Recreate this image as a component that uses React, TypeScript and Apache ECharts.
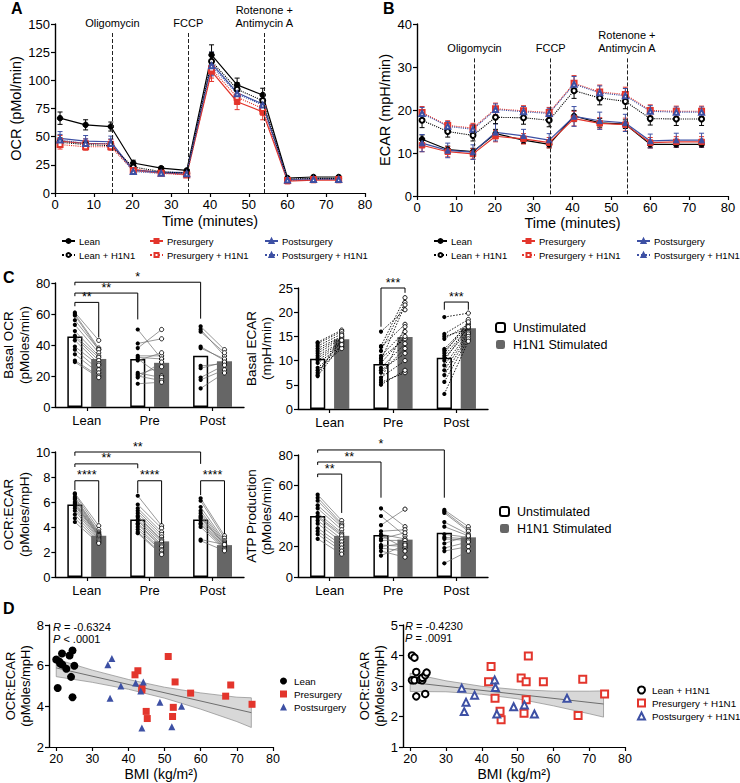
import React, { useEffect, useRef } from "react";
import * as echarts from "echarts";

const FONT = "'Liberation Sans', Arial, Helvetica, sans-serif";

// ---------- Panel A / B data ----------
const timePoints = [1.3, 7.9, 14.4, 20.2, 27.4, 34, 40.4, 47, 53.6, 60, 66.7, 73.2];
const groupNames = ["Lean", "Presurgery", "Postsurgery", "Lean + H1N1", "Presurgery + H1N1", "Postsurgery + H1N1"];

const ocrLean = [66.4, 60.5, 59, 26.6, 22, 20, 122.5, 96, 87, 13.3, 14.2, 14.2];
const ocrPre = [46, 44, 43.5, 21, 18, 16.5, 108, 81, 72, 10.5, 11.5, 11.5];
const ocrPost = [48.5, 46, 45.5, 20, 18.5, 18, 115, 89, 79, 12, 12.5, 12.5];
const ocrLeanH = [45, 43, 42, 23, 19, 17.5, 117, 92, 82, 12.5, 13, 13];
const ocrPreH = [43, 41, 41, 20, 17.5, 16, 110, 85, 75, 11, 12, 12];
const ocrPostH = [47, 44, 44, 19, 17.5, 17, 113, 88, 78, 11.5, 12, 12];
const ocrLeanErr = [5.5, 4.5, 4, 2.5, 1.5, 1.2, 9, 6, 6, 1, 1, 1];
const ocrPreErr = [5, 4, 4, 2, 1.5, 1.2, 9, 7, 7, 1, 1, 1];
const ocrPostErr = [6, 5, 5, 2, 1.5, 1.5, 10, 7, 7, 1, 1, 1];
const ocrLeanHErr = [4, 3, 3, 2, 1.5, 1.2, 8, 6, 6, 1, 1, 1];
const ocrPreHErr = [4, 3, 3, 2, 1.5, 1.2, 8, 6, 6, 1, 1, 1];
const ocrPostHErr = [5, 4, 4, 2, 1.5, 1.2, 9, 6, 6, 1, 1, 1];

const ecarLean = [13.2, 10.8, 10.3, 14.5, 13, 12, 18.6, 17, 16.7, 12, 12, 12];
const ecarPre = [11.8, 10.3, 9.8, 13.9, 13.3, 12.4, 18, 16.9, 16.6, 12.4, 12.6, 12.6];
const ecarPost = [12.3, 10.6, 10.2, 14.8, 14, 13, 18.5, 17.5, 17, 12.8, 13, 13];
const ecarLeanH = [17.6, 15, 14.1, 18.3, 18.2, 17.6, 24.5, 22.8, 22, 18, 17.9, 17.9];
const ecarPreH = [19.4, 16.4, 15.8, 20.3, 19.8, 19.4, 26.2, 24.2, 23.6, 19.9, 19.7, 19.7];
const ecarPostH = [19.2, 16.2, 15.5, 20.1, 19.6, 19.2, 26, 24, 23.3, 19.7, 19.5, 19.5];
const ecarLeanErr = [1, 0.8, 0.8, 1, 0.8, 0.8, 1.3, 1, 1, 0.8, 0.7, 0.7];
const ecarPreErr = [1.5, 1.2, 1.2, 1.3, 1.2, 1.2, 1.7, 1.3, 1.5, 1.2, 1.2, 1.2];
const ecarPostErr = [2, 1.7, 1.7, 2, 1.5, 1.5, 2.3, 2, 2, 1.6, 1.6, 1.6];
const ecarLeanHErr = [1.7, 1.3, 1.3, 1.5, 1.5, 1.5, 1.8, 1.6, 1.7, 1.5, 1.5, 1.5];
const ecarPreHErr = [1.4, 1.1, 1.1, 1.3, 1.2, 1.2, 1.8, 1.6, 1.7, 1.3, 1.2, 1.2];
const ecarPostHErr = [1.4, 1.1, 1.1, 1.3, 1.2, 1.2, 1.8, 1.6, 1.7, 1.3, 1.2, 1.2];

const injectionNames = ["Oligomycin", "FCCP", "Rotenone +\nAntimycin A"];
const injectionTimes = [14.8, 34.4, 54.0];

// ---------- Panel C data ----------
const groupCats = ["Lean", "Pre", "Post"];
const barNames = ["Unstimulated", "H1N1 Stimulated"];

const basalOcrUnstim = [45.5, 31, 33];
const basalOcrStim = [31, 28.5, 29.5];
const basalEcarUnstim = [10.4, 9.3, 10.6];
const basalEcarStim = [14.4, 14.9, 16.7];
const ocrEcarUnstim = [5.8, 4.6, 4.6];
const ocrEcarStim = [3.3, 2.85, 2.55];
const atpUnstim = [40, 27.5, 29];
const atpStim = [27, 24.5, 26];

const basalOcrLeanU = [61, 60, 59, 56, 53, 49, 46, 45, 43, 39, 37, 34, 30, 29];
const basalOcrLeanS = [43, 38, 37, 37, 35, 33, 32, 30, 28, 27, 24, 22, 20, 19];
const basalOcrPreU = [50, 41, 38, 33, 32, 31, 30, 22, 21, 20, 19, 15];
const basalOcrPreS = [31, 44, 50, 33, 31, 20, 35, 19, 26, 17, 29, 16];
const basalOcrPostU = [52, 50, 48.6, 39, 38, 26.5, 25, 19, 17.5, 12];
const basalOcrPostS = [37, 33, 35, 30, 31, 28, 29, 27, 24, 22];

const basalEcarLeanU = [13.8, 13.5, 13, 12.5, 12, 11.5, 11, 10.5, 10, 9.5, 8.5, 8, 7.5, 7, 6.8];
const basalEcarLeanS = [16.3, 16, 15.5, 15, 14.8, 14.5, 14, 13.8, 13.5, 13, 12.8, 12.5, 14.2, 15.2, 13.3];
const basalEcarPreU = [16, 13, 12.8, 12, 11, 10.5, 10, 9.5, 8.5, 8, 7.5, 6.5, 6, 5.5, 5];
const basalEcarPreS = [20.5, 23, 17.5, 22, 16, 14.5, 21.5, 15, 13.5, 11.5, 12.5, 10, 17, 7.5, 8];
const basalEcarPostU = [19, 15.5, 15, 14.5, 12.4, 12, 11.5, 11, 10.5, 10, 9, 8, 7, 5.6, 3.1];
const basalEcarPostS = [19.8, 18.5, 16.5, 17.5, 17.5, 17, 18, 16.8, 16, 17, 15.8, 15.5, 15, 14.5, 14];

const ocrEcarLeanU = [6.7, 6.6, 6.4, 6.3, 6.2, 6.0, 5.9, 5.8, 5.7, 5.5, 5.3, 5.0, 4.7, 4.4];
const ocrEcarLeanS = [4.1, 3.8, 3.6, 3.5, 3.4, 3.4, 3.3, 3.3, 3.2, 3.1, 3.0, 2.9, 2.8, 2.7];
const ocrEcarPreU = [6.5, 5.8, 5.5, 5.3, 5.1, 4.9, 4.8, 4.6, 4.5, 4.3, 4.2, 4.0, 3.8, 3.6, 3.5];
const ocrEcarPreS = [4.1, 3.9, 3.6, 3.4, 3.2, 3.0, 2.9, 2.8, 2.6, 2.5, 2.4, 2.2, 2.1, 1.9, 1.8];
const ocrEcarPostU = [6.3, 6.1, 5.6, 5.3, 5.1, 4.9, 4.8, 4.7, 4.5, 4.3, 4.2, 4.0, 3.0, 2.9];
const ocrEcarPostS = [3.3, 3.1, 2.9, 2.8, 2.7, 2.6, 2.6, 2.5, 2.4, 2.4, 2.3, 2.2, 2.6, 2.1];

const atpLeanU = [54, 52, 50, 47, 45, 42, 40, 39, 37, 35, 32, 30, 28, 25];
const atpLeanS = [37, 35, 34, 33, 31, 29, 28, 27, 25, 23, 21, 19, 17, 15];
const atpPreU = [45, 40, 34, 30, 28, 27, 25, 24, 21, 20, 19, 17, 14];
const atpPreS = [33, 27, 44.5, 31, 25, 19, 29, 24, 20, 22, 17, 13, 21];
const atpPostU = [44, 43, 42, 36, 33, 28, 26, 25, 22, 19, 17, 9];
const atpPostS = [33, 31, 30, 28, 27, 26, 25, 24, 27, 23, 20, 17];

// brackets: [cat1, side1, cat2, side2, top, bottom1, bottom2]
const basalOcrBrackets = [[0, -1, 2, -1, 80.5, 78.5, 57], [0, -1, 1, -1, 73.5, 71.5, 56.5], [0, -1, 0, 1, 67.5, 65, 45]];
const basalOcrStars = ["*", "**", "**"];
const basalEcarBrackets = [[1, -1, 1, 1, 25, 17, 24], [2, -1, 2, 1, 22.1, 20.5, 20.5]];
const basalEcarStars = ["***", "***"];
const ocrEcarBrackets = [[0, -1, 2, -1, 10, 9.7, 9.05], [0, -1, 1, -1, 9.05, 8.8, 8.7], [0, -1, 0, 1, 7.7, 6.95, 4.35], [1, -1, 1, 1, 7.7, 6.7, 4.25], [2, -1, 2, 1, 7.7, 6.55, 3.45]];
const ocrEcarStars = ["**", "**", "****", "****", "****"];
const atpBrackets = [[0, -1, 2, -1, 83.3, 81.5, 52], [0, -1, 1, -1, 75.4, 73.5, 52], [0, -1, 0, 1, 67.5, 65.5, 42]];
const atpStars = ["*", "**", "**"];

// ---------- Panel D data ----------
const bmiTicks = [20, 30, 40, 50, 60, 70, 80];
const dLean = [[20, 6.3], [21.6, 6.6], [20.9, 6.2], [21.1, 6.1], [21.7, 6.05], [22.8, 5.85], [23.7, 6.5], [24.5, 6.75], [25, 6.0], [24.1, 5.45], [20.4, 4.9], [24.5, 4.45]];
const dPre = [[51, 6.45], [41.8, 5.55], [42.6, 5.75], [43.7, 4.9], [43.7, 4.8], [52.9, 5.2], [57.2, 4.65], [68.3, 5.05], [66.9, 4.5], [74.2, 4.1], [44.9, 3.75], [45.2, 3.4], [52.4, 3.95], [52.2, 3.5]];
const dPost = [[35.4, 6.35], [34.3, 6.05], [37.9, 5.0], [42, 5.15], [44.1, 5.2], [43.4, 4.75], [34.9, 4.4], [48.7, 4.2], [54.7, 4.0], [43.7, 2.93], [52, 3.0]];
const dLeanH = [[20.5, 4.0], [21.2, 3.93], [21.7, 3.46], [20.5, 3.19], [21.2, 3.19], [22.8, 3.2], [23.4, 3.19], [23.4, 3.27], [24.2, 3.35], [24.6, 3.44], [24.2, 2.74], [21.7, 2.66]];
const dPreH = [[53, 3.98], [42.6, 3.64], [41.9, 3.14], [51, 3.26], [52.4, 3.14], [57.2, 3.14], [68.2, 3.22], [74.3, 2.74], [43.7, 2.6], [52.4, 2.55], [45.1, 2.17], [45.4, 1.89], [51.8, 2.11], [66.9, 2.03]];
const dPostH = [[34.4, 2.93], [43.6, 3.2], [43.8, 2.95], [38, 2.7], [35.6, 2.47], [35.1, 2.16], [44.2, 2.08], [48.9, 2.32], [51.9, 2.38], [54.7, 2.08], [63.8, 2.6]];

const regX = [20, 30, 40, 50, 60, 70, 74];
const regLeftUpper = [6.32, 5.78, 5.32, 4.94, 4.66, 4.45, 4.42];
const regLeftLower = [5.46, 5.18, 4.84, 4.4, 3.86, 3.25, 2.96];
const regLeftLine = [[20, 5.89], [74, 3.69]];
const regRightUpper = [3.42, 3.17, 2.99, 2.88, 2.83, 2.83, 2.84];
const regRightLower = [2.82, 2.81, 2.73, 2.58, 2.35, 2.09, 1.98];
const regRightLine = [[20, 3.12], [74, 2.41]];

// ---------- styles ----------
const RED = "#e3352c";
const BLUE = "#3d50a4";
const groupStyles = [
  { color: "#000", symbol: "circle", dash: "solid" },
  { color: RED, symbol: "rect", dash: "solid" },
  { color: BLUE, symbol: "triangle", dash: "solid" },
  { color: "#000", symbol: "emptyCircle", dash: "dotted" },
  { color: RED, symbol: "emptyRect", dash: "dotted" },
  { color: BLUE, symbol: "emptyTriangle", dash: "dotted" },
];
const BAR_W = 0.24;
const BAR_GAP = 0.58;
const BAR_OFF = (BAR_W * (1 + BAR_GAP)) / 2;

const axisLine = { show: true, onZero: false, lineStyle: { color: "#000", width: 1.2 } };
const axisTick = { show: true, length: 4, lineStyle: { color: "#000", width: 1.2 } };
const noSplit = { show: false };

function errorBarItem(color: string) {
  return (params: any, api: any) => {
    const x = api.value(0), m = api.value(1), e = api.value(2);
    const hi = api.coord([x, m + e]);
    const lo = api.coord([x, m - e]);
    const w = 2.5;
    const st = { stroke: color, lineWidth: 1 };
    return {
      type: "group",
      children: [
        { type: "line", shape: { x1: hi[0], y1: hi[1], x2: lo[0], y2: lo[1] }, style: st },
        { type: "line", shape: { x1: hi[0] - w, y1: hi[1], x2: hi[0] + w, y2: hi[1] }, style: st },
        { type: "line", shape: { x1: lo[0] - w, y1: lo[1], x2: lo[0] + w, y2: lo[1] }, style: st },
      ],
    };
  };
}

function pairItem(lineColor: string, lineWidth: number, dash: any) {
  return (params: any, api: any) => {
    const c = api.value(0), u = api.value(1), s = api.value(2);
    const band = api.size([1, 0])[0];
    const off = band * BAR_OFF;
    const p0 = api.coord([c, u]);
    const p1 = api.coord([c, s]);
    const x0 = p0[0] - off, x1 = p1[0] + off;
    return {
      type: "group",
      children: [
        { type: "line", shape: { x1: x0, y1: p0[1], x2: x1, y2: p1[1] }, style: { stroke: lineColor, lineWidth, lineDash: dash } },
        { type: "circle", shape: { cx: x0, cy: p0[1], r: 2.1 }, style: { fill: "#000" } },
        { type: "circle", shape: { cx: x1, cy: p1[1], r: 2.1 }, style: { fill: "#fff", stroke: "#000", lineWidth: 0.9 } },
      ],
    };
  };
}

function bracketItem(labels: string[]) {
  return (params: any, api: any) => {
    const band = api.size([1, 0])[0];
    const off = band * BAR_OFF;
    const a = api.coord([api.value(0), api.value(4)]);
    const b = api.coord([api.value(2), api.value(4)]);
    const x1 = a[0] + api.value(1) * off;
    const x2 = b[0] + api.value(3) * off;
    const yTop = a[1];
    const y1 = api.coord([api.value(0), api.value(5)])[1];
    const y2 = api.coord([api.value(2), api.value(6)])[1];
    return {
      type: "group",
      children: [
        { type: "polyline", shape: { points: [[x1, y1], [x1, yTop], [x2, yTop], [x2, y2]] }, style: { stroke: "#000", lineWidth: 1, fill: null } },
        { type: "text", x: (x1 + x2) / 2, y: yTop + 1, style: { text: labels[params.dataIndex], align: "center", verticalAlign: "bottom", fontSize: 12.5, fontFamily: FONT, fill: "#000" } },
      ],
    };
  };
}

function bandItem(xs: number[], up: number[], lo: number[]) {
  return (params: any, api: any) => {
    if (params.dataIndex !== 0) return { type: "group", children: [] };
    const pts: number[][] = [];
    xs.forEach((x, i) => pts.push(api.coord([x, up[i]])));
    for (let i = xs.length - 1; i >= 0; i--) pts.push(api.coord([xs[i], lo[i]]));
    return { type: "polygon", shape: { points: pts }, style: { fill: "#d8d8d8", stroke: "#8a8a8a", lineWidth: 0.7 } };
  };
}

function buildOption() {
  const ocrSets = [ocrLean, ocrPre, ocrPost, ocrLeanH, ocrPreH, ocrPostH];
  const ocrErrs = [ocrLeanErr, ocrPreErr, ocrPostErr, ocrLeanHErr, ocrPreHErr, ocrPostHErr];
  const ecarSets = [ecarLean, ecarPre, ecarPost, ecarLeanH, ecarPreH, ecarPostH];
  const ecarErrs = [ecarLeanErr, ecarPreErr, ecarPostErr, ecarLeanHErr, ecarPreHErr, ecarPostHErr];

  const grids = [
    { left: 55, top: 24, width: 310, height: 169 },
    { left: 417, top: 24, width: 311, height: 172 },
    { left: 49, top: 283, width: 195, height: 124 },
    { left: 298, top: 288, width: 190, height: 121 },
    { left: 52, top: 452, width: 192, height: 125 },
    { left: 298, top: 455, width: 190, height: 122 },
    { left: 49, top: 625, width: 224, height: 123 },
    { left: 403, top: 625, width: 222, height: 123 },
  ];

  const tickLabel = (size: number, margin = 6) => ({ fontSize: size, color: "#000", fontFamily: FONT, margin });
  const nameStyle = (size: number) => ({ fontSize: size, color: "#000", fontFamily: FONT, lineHeight: size + 2 });

  const timeX = (gi: number, gap: number) => ({
    type: "value", gridIndex: gi, min: 0, max: 80, interval: 10,
    axisLine, axisTick, splitLine: noSplit, axisLabel: tickLabel(13, 5),
    name: "Time (minutes)", nameLocation: "middle", nameGap: gap, nameTextStyle: nameStyle(14.5),
  });
  const catX = (gi: number) => ({
    type: "category", gridIndex: gi, data: groupCats,
    axisLine: { show: true, lineStyle: { color: "#000", width: 1.4 } },
    axisTick: { show: true, alignWithLabel: true, length: 4, lineStyle: { color: "#000", width: 1.2 } },
    axisLabel: tickLabel(13, 7), splitLine: noSplit,
  });
  const valY = (gi: number, min: number, max: number, interval: number, name: string, gap: number, nsize = 13.5) => ({
    type: "value", gridIndex: gi, min, max, interval,
    axisLine: { show: true, lineStyle: { color: "#000", width: 1.4 } }, axisTick, splitLine: noSplit,
    axisLabel: tickLabel(13, 5),
    name, nameLocation: "middle", nameRotate: 90, nameGap: gap, nameTextStyle: nameStyle(nsize),
  });
  const bmiX = (gi: number) => ({
    type: "value", gridIndex: gi, min: 18, max: 80,
    axisLine, axisTick: { ...axisTick, customValues: bmiTicks }, splitLine: noSplit,
    axisLabel: { ...tickLabel(12.5, 5), customValues: bmiTicks },
    name: "BMI (kg/m²)", nameLocation: "middle", nameGap: 19, nameTextStyle: nameStyle(14),
  });

  const xAxis = [timeX(0, 20), timeX(1, 17), catX(2), catX(3), catX(4), catX(5), bmiX(6), bmiX(7)];
  const yAxis = [
    valY(0, 0, 150, 25, "OCR (pMol/min)", 30, 14.5),
    valY(1, 0, 40, 10, "ECAR (mpH/min)", 22, 14.5),
    valY(2, 0, 80, 20, "Basal OCR\n(pMoles/min)", 20),
    valY(3, 0, 25, 5, "Basal ECAR\n(mpH/min)", 22),
    valY(4, 0, 10, 2, "OCR:ECAR\n(pMoles/mpH)", 20),
    valY(5, 0, 80, 20, "ATP Production\n(pMoles/min)", 22),
    valY(6, 2, 8, 2, "OCR:ECAR\n(pMoles/mpH)", 12, 13),
    valY(7, 1, 5, 1, "OCR:ECAR\n(pMoles/mpH)", 16, 13),
  ];

  const series: any[] = [];

  const addTimeCourse = (gi: number, sets: number[][], errs: number[][], lineTop: number) => {
    sets.forEach((vals, i) => {
      const st = groupStyles[i];
      const s: any = {
        type: "line", name: groupNames[i], xAxisIndex: gi, yAxisIndex: gi,
        data: timePoints.map((t, j) => [t, vals[j]]),
        symbol: st.symbol, symbolSize: st.symbol.indexOf("empty") === 0 ? 5 : 5.5,
        lineStyle: { color: st.color, width: st.dash === "solid" ? 1.2 : 1.1, type: st.dash },
        itemStyle: { color: st.color, borderColor: st.color, borderWidth: 1 },
        z: 4, silent: true,
      };
      if (i === 0) {
        s.markLine = {
          silent: true, symbol: ["none", "none"], animation: false,
          lineStyle: { color: "#222", width: 1, type: [4, 2] },
          label: { show: true, position: "start", formatter: "{b}", fontSize: 11, color: "#000", fontFamily: FONT, distance: 4, lineHeight: 13 },
          data: injectionTimes.map((t, k) => [{ name: injectionNames[k], coord: [t, lineTop] }, { coord: [t, 0] }]),
        };
      }
      series.push(s);
      series.push({
        type: "custom", xAxisIndex: gi, yAxisIndex: gi, silent: true, z: 3,
        renderItem: errorBarItem(st.color), encode: { x: 0, y: 1 },
        data: timePoints.map((t, j) => [t, vals[j], errs[i][j]]),
      });
    });
  };
  addTimeCourse(0, ocrSets, ocrErrs, 142);
  addTimeCourse(1, ecarSets, ecarErrs, 32);

  const panels = [
    { gi: 2, u: basalOcrUnstim, s: basalOcrStim, pairs: [[basalOcrLeanU, basalOcrLeanS], [basalOcrPreU, basalOcrPreS], [basalOcrPostU, basalOcrPostS]], br: basalOcrBrackets, stars: basalOcrStars, lc: "#6b6b6b", lw: 0.7, dash: "solid" as any },
    { gi: 3, u: basalEcarUnstim, s: basalEcarStim, pairs: [[basalEcarLeanU, basalEcarLeanS], [basalEcarPreU, basalEcarPreS], [basalEcarPostU, basalEcarPostS]], br: basalEcarBrackets, stars: basalEcarStars, lc: "#000", lw: 0.9, dash: [1.5, 1.5] },
    { gi: 4, u: ocrEcarUnstim, s: ocrEcarStim, pairs: [[ocrEcarLeanU, ocrEcarLeanS], [ocrEcarPreU, ocrEcarPreS], [ocrEcarPostU, ocrEcarPostS]], br: ocrEcarBrackets, stars: ocrEcarStars, lc: "#6b6b6b", lw: 0.7, dash: "solid" as any },
    { gi: 5, u: atpUnstim, s: atpStim, pairs: [[atpLeanU, atpLeanS], [atpPreU, atpPreS], [atpPostU, atpPostS]], br: atpBrackets, stars: atpStars, lc: "#6b6b6b", lw: 0.7, dash: "solid" as any },
  ];
  panels.forEach((p) => {
    series.push({
      type: "bar", name: barNames[0], xAxisIndex: p.gi, yAxisIndex: p.gi, data: p.u,
      barWidth: BAR_W * 100 + "%", barGap: BAR_GAP * 100 + "%",
      itemStyle: { color: "#fff", borderColor: "#000", borderWidth: 1.5 }, z: 2, silent: true,
    });
    series.push({
      type: "bar", name: barNames[1], xAxisIndex: p.gi, yAxisIndex: p.gi, data: p.s,
      barWidth: BAR_W * 100 + "%", barGap: BAR_GAP * 100 + "%",
      itemStyle: { color: "#666666", borderColor: "#666666", borderWidth: 0 }, z: 2, silent: true,
    });
    const rows: number[][] = [];
    p.pairs.forEach((pr, ci) => pr[0].forEach((v, k) => rows.push([ci, v, pr[1][k]])));
    series.push({
      type: "custom", xAxisIndex: p.gi, yAxisIndex: p.gi, silent: true, z: 5,
      renderItem: pairItem(p.lc, p.lw, p.dash), encode: { x: 0, y: [1, 2] }, data: rows,
    });
    series.push({
      type: "custom", xAxisIndex: p.gi, yAxisIndex: p.gi, silent: true, z: 6, clip: false,
      renderItem: bracketItem(p.stars), encode: { x: 0, y: 4 }, data: p.br,
    });
  });

  // Panel D
  const dPanels = [
    { gi: 6, up: regLeftUpper, lo: regLeftLower, line: regLeftLine, sets: [dLean, dPre, dPost], names: ["D1:Lean", "D1:Presurgery", "D1:Postsurgery"], syms: ["circle", "rect", "triangle"], sizes: [8, 7, 7] },
    { gi: 7, up: regRightUpper, lo: regRightLower, line: regRightLine, sets: [dLeanH, dPreH, dPostH], names: ["D2:Lean + H1N1", "D2:Presurgery + H1N1", "D2:Postsurgery + H1N1"], syms: ["emptyCircle", "emptyRect", "emptyTriangle"], sizes: [6.5, 7, 7] },
  ];
  const dColors = ["#000", RED, BLUE];
  dPanels.forEach((d) => {
    series.push({
      type: "custom", xAxisIndex: d.gi, yAxisIndex: d.gi, silent: true, z: 1,
      renderItem: bandItem(regX, d.up, d.lo), encode: { x: 0, y: [1, 2] },
      data: regX.map((x, i) => [x, d.up[i], d.lo[i]]),
    });
    series.push({
      type: "line", xAxisIndex: d.gi, yAxisIndex: d.gi, data: d.line, symbol: "none", silent: true, z: 2,
      lineStyle: { color: "#6e6e6e", width: 1 },
    });
    d.sets.forEach((pts, i) => {
      series.push({
        type: "scatter", name: d.names[i], xAxisIndex: d.gi, yAxisIndex: d.gi, data: pts,
        symbol: d.syms[i], symbolSize: d.sizes[i], silent: true, z: 4,
        itemStyle: { color: dColors[i], borderColor: dColors[i], borderWidth: d.gi === 7 ? 1.1 : 0, opacity: 1 },
      });
    });
  });

  // legends
  const legends: any[] = [];
  const lineLegendLeft = [61, 149, 264, 61, 149, 264];
  const lineLegendRight = [433, 521, 636, 433, 521, 636];
  groupNames.forEach((n, i) => {
    const top = i < 3 ? 236 : 250;
    [lineLegendLeft[i], lineLegendRight[i]].forEach((left) => {
      legends.push({
        data: [n], left, top, padding: 0, selectedMode: false, itemWidth: 13, itemHeight: 5,
        textStyle: { fontSize: 9.5, color: "#000", fontFamily: FONT, padding: [0, 0, 0, -1] },
      });
    });
  });
  const barLegend = (left: number, top: number) => ({
    data: barNames, left, top, orient: "vertical", padding: 0, selectedMode: false,
    itemWidth: 9, itemHeight: 9, itemGap: 4,
    textStyle: { fontSize: 12.5, color: "#000", fontFamily: FONT, padding: [0, 0, 0, 3] },
  });
  legends.push(barLegend(495, 321));
  legends.push(barLegend(499, 505));
  const dLegend = (names: string[], left: number, top: number) => ({
    data: names, left, top, orient: "vertical", padding: 0, selectedMode: false,
    itemWidth: 7, itemHeight: 7, itemGap: 3,
    formatter: (n: string) => n.split(":")[1],
    textStyle: { fontSize: 9.8, color: "#000", fontFamily: FONT, padding: [0, 0, 0, 2] },
  });
  legends.push(dLegend(dPanels[0].names, 280, 676));
  legends.push(dLegend(dPanels[1].names, 637, 685));

  const panelLabel = (text: string, x: number, y: number) => ({
    type: "text", x, y, style: { text, fontSize: 16, fontWeight: "bold", fontFamily: FONT, fill: "#000", verticalAlign: "middle" },
  });
  const stat = (r: string, p: string, x: number, y: number) => ([
    { type: "text", x, y, style: { text: "{i|R} = " + r, rich: { i: { fontStyle: "italic", fontSize: 11, fontFamily: FONT } }, fontSize: 11, fontFamily: FONT, fill: "#000", verticalAlign: "middle" } },
    { type: "text", x, y: y + 12, style: { text: "{i|P} " + p, rich: { i: { fontStyle: "italic", fontSize: 11, fontFamily: FONT } }, fontSize: 11, fontFamily: FONT, fill: "#000", verticalAlign: "middle" } },
  ]);

  return {
    animation: false,
    backgroundColor: "#fff",
    textStyle: { fontFamily: FONT },
    grid: grids,
    xAxis,
    yAxis,
    legend: legends,
    series,
    graphic: [
      panelLabel("A", 11, 8),
      panelLabel("B", 383, 8),
      panelLabel("C", 3, 277),
      panelLabel("D", 3, 608),
      ...stat("-0.6324", "< .0001", 53, 627),
      ...stat("-0.4230", "= .0091", 405, 626),
    ],
  };
}

export default function App() {
  const ref = useRef<HTMLDivElement>(null);
  useEffect(() => {
    document.body.style.margin = "0";
    const chart = echarts.init(ref.current as HTMLDivElement, null, { renderer: "svg" });
    chart.setOption(buildOption() as any);
    return () => chart.dispose();
  }, []);
  return <div ref={ref} style={{ width: 740, height: 783, background: "#fff" }} />;
}
